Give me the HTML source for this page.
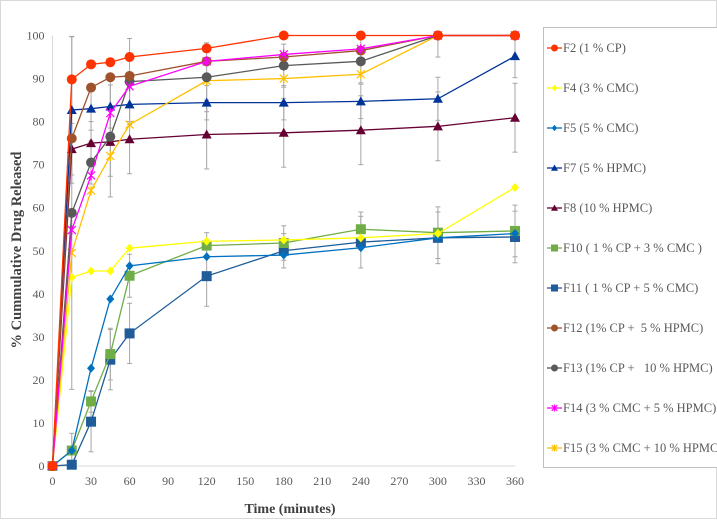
<!DOCTYPE html>
<html><head><meta charset="utf-8">
<style>
html,body{margin:0;padding:0;background:#fff;}
svg{display:block;font-family:"Liberation Serif",serif;}
</style></head>
<body>
<svg id="chart" width="717" height="520" viewBox="0 0 717 520">
<rect x="0.5" y="0.5" width="716" height="518" fill="#fff" stroke="#d9d9d9"/>
<g id="grid"></g><g id="axes"></g><g id="errs"></g><g id="series"></g>
<text x="21" y="250" transform="rotate(-90 21 250)" text-anchor="middle" font-size="14.5" font-weight="bold" fill="#404040">% Cummulative Drug Released</text>
<text x="290" y="513" text-anchor="middle" font-size="14" font-weight="bold" fill="#404040">Time (minutes)</text>
<rect x="543.5" y="27.5" width="180" height="440" fill="#fff" stroke="#bfbfbf"/>
<g id="legend"></g>
</svg>
<script>
const times=[0,15,30,45,60,120,180,240,300,360];
const xTicks=[0,30,60,90,120,150,180,210,240,270,300,330,360];
const yTicks=[0,10,20,30,40,50,60,70,80,90,100];
const names=["F2 (1 % CP)","F4 (3 % CMC)","F5 (5 % CMC)","F7 (5 % HPMC)","F8 (10 % HPMC)","F10 ( 1 % CP + 3 % CMC )","F11 ( 1 % CP + 5 % CMC)","F12 (1% CP +  5 % HPMC)","F13 (1% CP +   10 % HPMC)","F14 (3 % CMC + 5 % HPMC)","F15 (3 % CMC + 10 % HPMC)"];
const F2=[0,89.8,93.3,93.8,95,97,100,100,100,100];
const F4=[0,43.8,45.3,45.3,50.6,52.2,52.5,53,54,64.7];
const F5=[0,3.6,22.7,38.8,46.5,48.6,49,50.7,53,54];
const F7=[0,82.7,83,83.5,84,84.4,84.4,84.7,85.3,95.2];
const F8=[0,73.6,75,75.3,75.9,77,77.4,78,78.9,80.9];
const F10=[0,3.6,15,26,44.2,51.2,51.8,55,54.2,54.6];
const F11=[0,0.3,10.3,24.7,30.8,44.1,50,52,53,53.2];
const F12=[0,76.1,87.9,90.3,90.6,94,95,96.5,100,100];
const F13=[0,58.8,70.5,76.5,89.3,90.3,93,94,100,100];
const F14=[0,54.8,67.5,82,88.2,94,95.6,96.9,100,100];
const F15=[0,49.5,64,72,79.3,89.5,90,91,100,100];
const errF7=[0,17,5,5,4,4,4,4,5,5];
const errF8=[0,6,5,8,8,8,8,8,8,8];
const errF10=[0,4,2.5,6,5,3,4,4,6,6];
const errF11=[0,0.5,7,7,7,7,4,6,6,6];
const errF13=[0,41,5,14,10,8,5,5,5,5];
const colors=["#ff3300","#ffff00","#0070c0","#003399","#660033","#70ad47","#1f5c99","#a0522d","#595959","#ff00ff","#ffc000"];
const markers=["circle","diamond","diamond","triangle","triangle","square","square","circle","circle","star","star"];
const data=[F2,F4,F5,F7,F8,F10,F11,F12,F13,F14,F15];
const errs={3:errF7,4:errF8,5:errF10,6:errF11,8:errF13};
const X0=52.5,X1=515,Y0=466,Y1=35.5;
const sx=t=>X0+(t/360)*(X1-X0);
const sy=v=>Y0-(v/100)*(Y0-Y1);
const NS="http://www.w3.org/2000/svg";
function mk(tag,attrs,parent){const e=document.createElementNS(NS,tag);for(const k in attrs)e.setAttribute(k,attrs[k]);parent.appendChild(e);return e;}
const axes=document.getElementById('axes');
let l=mk('line',{x1:X0,y1:Y0,x2:X1,y2:Y0,stroke:'#d9d9d9'},axes);


l=mk('line',{x1:X0,y1:Y0,x2:X0,y2:Y1,stroke:'#d9d9d9'},axes);


xTicks.forEach(t=>{const e=mk('text',{x:sx(t),y:Y0+19,'text-anchor':'middle','font-size':12,fill:'#595959'},axes);e.textContent=t;

});
yTicks.forEach(v=>{const e=mk('text',{x:X0-8,y:sy(v)+4,'text-anchor':'end','font-size':12,fill:'#595959'},axes);e.textContent=v;

});
const eg=document.getElementById('errs');
for(const k in errs){const arr=errs[k];data[k].forEach((v,i)=>{if(!arr[i])return;const x=sx(times[i]);
const g=mk('g',{stroke:'#a6a6a6','stroke-width':1},eg);


const hi=Math.min(100,v+arr[i]);
mk('line',{x1:x,x2:x,y1:sy(v-arr[i]),y2:sy(hi)},g);
mk('line',{x1:x-2.5,x2:x+2.5,y1:sy(v-arr[i]),y2:sy(v-arr[i])},g);
mk('line',{x1:x-2.5,x2:x+2.5,y1:sy(hi),y2:sy(hi)},g);});}
function marker(type,x,y,c,p,big){const s=big?1:0.7;let e;
if(type==='circle')e=mk('circle',{cx:x,cy:y,r:5*s,fill:c},p);
else if(type==='diamond')e=mk('polygon',{points:`${x},${y-4.5*s} ${x+4*s},${y} ${x},${y+4.5*s} ${x-4*s},${y}`,fill:c},p);
else if(type==='triangle')e=mk('polygon',{points:`${x},${y-5*s} ${x+5*s},${y+4*s} ${x-5*s},${y+4*s}`,fill:c},p);
else if(type==='square')e=mk('rect',{x:x-5*s,y:y-5*s,width:10*s,height:10*s,fill:c},p);
else{e=mk('path',{d:`M${x-4*s},${y-4*s}L${x+4*s},${y+4*s}M${x-4*s},${y+4*s}L${x+4*s},${y-4*s}M${x},${y-5*s}L${x},${y+5*s}`,stroke:c,'stroke-width':1.2,fill:'none'},p);}
return e;}
const sg=document.getElementById('series');
const order=[6,5,2,1,4,3,10,8,7,9,0];
order.forEach(k=>{const arr=data[k];const g=mk('g',{},sg);


mk('polyline',{points:arr.map((v,i)=>sx(times[i])+','+sy(v)).join(' '),fill:'none',stroke:colors[k],'stroke-width':1.3},g);
arr.forEach((v,i)=>{const m=marker(markers[k],sx(times[i]),sy(v),colors[k],g,true);

});});
const lg=document.getElementById('legend');
names.forEach((n,k)=>{const y=48+k*40;const g=mk('g',{},lg);


mk('line',{x1:547,x2:562,y1:y,y2:y,stroke:colors[k],'stroke-width':1.3},g);
marker(markers[k],554.5,y,colors[k],g,false);
const t=mk('text',{x:563,y:y+4,'font-size':12.5,fill:'#595959','xml:space':'preserve',style:'white-space:pre'},g);t.textContent=n;});
</script>
</body></html>
